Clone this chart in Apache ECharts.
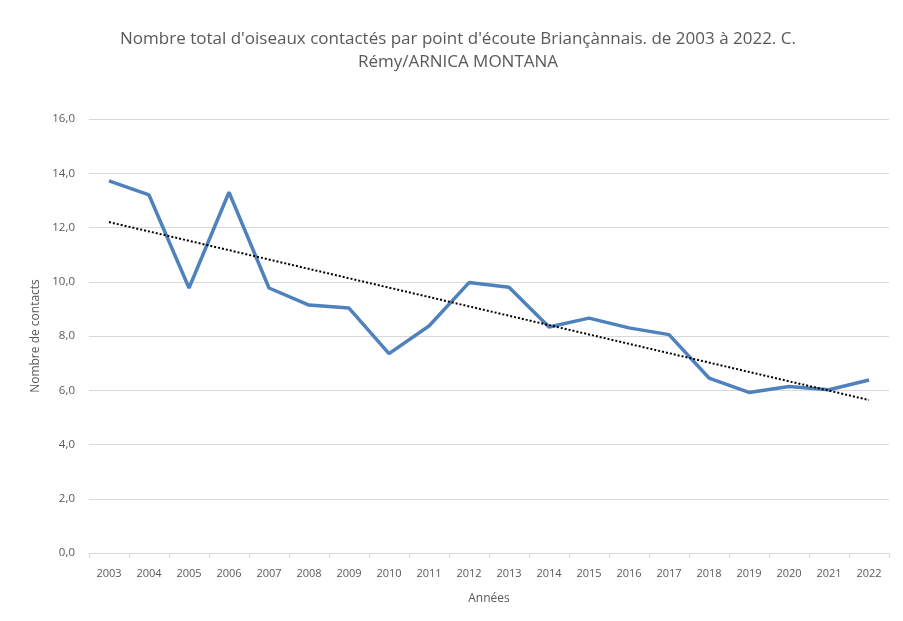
<!DOCTYPE html>
<html lang="fr">
<head>
    <meta charset="UTF-8">
    <title>Nombre total d'oiseaux contactés</title>
    <script src="https://cdn.jsdelivr.net/npm/echarts@6/dist/echarts.min.js"></script>
    <style>
        html, body { margin: 0; padding: 0; background: #fff; }
        #main { width: 903px; height: 621px; }
    </style>
</head>
<body>
<div id="main"></div>
<script>
    // années
    var annees = ['2003', '2004', '2005', '2006', '2007', '2008', '2009', '2010', '2011', '2012',
        '2013', '2014', '2015', '2016', '2017', '2018', '2019', '2020', '2021', '2022'];
    // nombre de contacts par point d'écoute
    var contacts = [13.72, 13.2, 9.77, 13.3, 9.77, 9.14, 9.03, 7.35, 8.37, 9.97,
        9.8, 8.33, 8.66, 8.3, 8.05, 6.45, 5.92, 6.14, 6.02, 6.38];
    // tendance linéaire : valeur en 2003 et en 2022
    var tendance = [12.2, 5.64];

    var gris = '#595959';
    var police = 'Open Sans';
    var myChart = echarts.init(document.getElementById('main'));

    var option = {
        backgroundColor: '#fff',
        animation: false,
        title: {
            text: "Nombre total d'oiseaux contactés par point d'écoute Briançànnais. de 2003 à 2022. C.\nRémy/ARNICA MONTANA",
            left: 453,
            top: 23,
            textAlign: 'center',
            textStyle: {
                color: gris,
                fontFamily: police,
                fontSize: 17,
                fontWeight: 'normal',
                lineHeight: 23
            }
        },
        grid: { left: 89, right: 14, top: 119, bottom: 68 },
        xAxis: {
            type: 'category',
            data: annees,
            boundaryGap: true,
            name: 'Années',
            nameLocation: 'middle',
            nameGap: 40,
            nameTextStyle: { color: gris, fontFamily: police, fontSize: 12 },
            axisLine: { lineStyle: { color: '#d9d9d9' } },
            axisTick: { show: true, lineStyle: { color: '#d9d9d9' } },
            axisLabel: { color: gris, fontFamily: police, fontSize: 11, margin: 15 }
        },
        yAxis: {
            type: 'value',
            min: 0,
            max: 16,
            interval: 2,
            name: 'Nombre de contacts',
            nameLocation: 'middle',
            nameGap: 46,
            nameTextStyle: { color: gris, fontFamily: police, fontSize: 12 },
            axisLine: { show: false },
            axisTick: { show: false },
            axisLabel: {
                color: gris,
                fontFamily: police,
                fontSize: 11.5,
                margin: 14,
                formatter: function (v) { return v.toFixed(1).replace('.', ','); }
            },
            splitLine: { lineStyle: { color: '#d9d9d9' } }
        },
        series: [{
            name: 'Contacts',
            type: 'line',
            data: contacts,
            symbol: 'none',
            lineStyle: { color: '#4f81bd', width: 3.5 },
            markLine: {
                silent: true,
                symbol: 'none',
                label: { show: false },
                lineStyle: { color: '#000', type: [2, 2], width: 2 },
                data: [[
                    { coord: [annees[0], tendance[0]] },
                    { coord: [annees[annees.length - 1], tendance[1]] }
                ]]
            }
        }]
    };

    myChart.setOption(option);
</script>
</body>
</html>
